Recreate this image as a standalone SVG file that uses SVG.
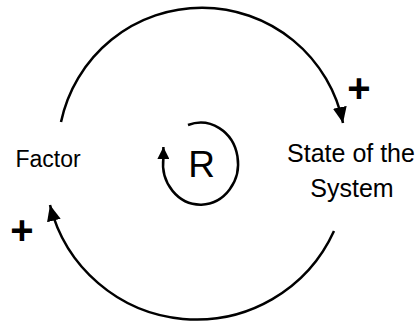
<svg xmlns="http://www.w3.org/2000/svg" width="419" height="323" viewBox="0 0 419 323">
  <style>
    .lbl { font-family: "Liberation Sans", Arial, sans-serif; fill: #000; text-anchor: middle; }
    .plus { font-family: "Liberation Sans", Arial, sans-serif; font-weight: bold; fill: #000; text-anchor: middle; font-size: 40px; }
    .link { fill: none; stroke: #000; stroke-width: 2.5; }
  </style>
  <defs>
    <marker id="arrowBig" viewBox="0 0 16 14" markerWidth="16" markerHeight="14" refX="16" refY="7" orient="auto" markerUnits="userSpaceOnUse">
      <path d="M0,0 L16,7 L0,14 Z" fill="#000"/>
    </marker>
    <marker id="arrowSmall" viewBox="0 0 12 12" markerWidth="12" markerHeight="12" refX="12" refY="6" orient="auto" markerUnits="userSpaceOnUse">
      <path d="M0,0 L12,6 L0,12 Z" fill="#000"/>
    </marker>
  </defs>
  <rect width="419" height="323" fill="#fff"/>
  <g id="connectors">
    <path class="link" d="M61,122 A144,144 0 0 1 343,123" marker-end="url(#arrowBig)"/>
    <text class="plus" x="359" y="102">+</text>
    <path class="link" d="M334,231 A151,151 0 0 1 50,205" marker-end="url(#arrowBig)"/>
    <text class="plus" x="22" y="244">+</text>
  </g>
  <g id="factor">
    <text class="lbl" x="48" y="167" font-size="23">Factor</text>
  </g>
  <g id="state">
    <text class="lbl" x="351" y="162" font-size="25">State of the</text>
    <text class="lbl" x="352" y="197" font-size="25">System</text>
  </g>
  <g id="loop-R">
    <path class="link" d="M188,125 A37.5,41 0 1 1 163.4,158 L163.4,147" marker-end="url(#arrowSmall)"/>
    <text class="lbl" x="201.5" y="177" font-size="37">R</text>
  </g>
</svg>
